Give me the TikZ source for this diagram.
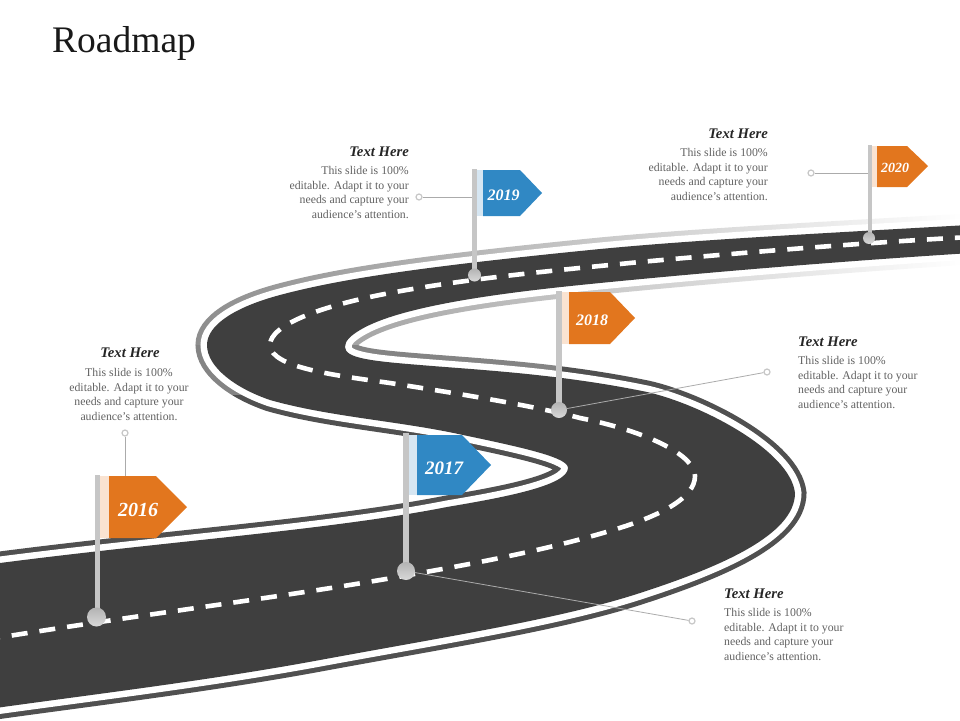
\documentclass[tikz,border=0pt]{standalone}
\usepackage{fontspec}
\setmainfont{Liberation Serif}
\usetikzlibrary{fadings}

\definecolor{roaddark}{HTML}{3F3F3F}
\definecolor{roadband}{HTML}{505050}
\definecolor{flagorange}{HTML}{E2761E}
\definecolor{flagblue}{HTML}{3088C4}
\definecolor{paleorange}{HTML}{FAE3D1}
\definecolor{paleblue}{HTML}{D6E6F2}
\definecolor{polegray}{HTML}{C6C6C6}
\definecolor{leadgray}{HTML}{ABABAB}

\tikzfading[name=bandfade,left color=transparent!65,right color=transparent!0]

\tikzset{
	heading/.style={font=\fontsize{14.7}{16}\selectfont\bfseries\itshape,text=black!85,inner sep=0pt},
	bodytext/.style={font=\fontsize{11.8}{14.8}\selectfont,text=black!62,inner sep=0pt},
	ball/.style={circle,inner sep=0pt,top color=black!30,bottom color=black!15},
	enddot/.style={circle,draw=black!22,fill=white,line width=1.2pt,inner sep=0pt,minimum size=6pt},
	lead/.style={draw=leadgray,line width=.8pt},
	year/.style={text=white,font=\bfseries\itshape,inner sep=0pt}
}

\def\roadoutline{(-60,570) -- (0,563)
	.. controls (170,541) and (330,530) .. (447,507)
	.. controls (500,498) and (568,486) .. (568,468)
	.. controls (568,458) and (530,449) .. (463,435)
	.. controls (400,421) and (330,417) .. (270,400)
	.. controls (235,388) and (207,367) .. (207,345)
	.. controls (207,325) and (235,307) .. (280,295)
	.. controls (340,279) and (420,267) .. (590,250)
	.. controls (700,239) and (850,232) .. (1020,222)
	-- (1020,250)
	.. controls (850,260) and (700,273) .. (590,284)
	.. controls (500,293) and (400,306) .. (360,330)
	.. controls (350,336) and (345,341) .. (345,347)
	.. controls (345,358) and (370,361) .. (420,365)
	.. controls (480,370) and (560,374) .. (647,392)
	.. controls (700,404) and (790,450) .. (795,493)
	.. controls (795,535) and (720,567) .. (640,593)
	.. controls (560,619) and (450,636) .. (320,660)
	.. controls (190,684) and (60,698) .. (-60,716) -- cycle}

\begin{document}
\begin{tikzpicture}[x=1pt,y=-1pt]
	\useasboundingbox (0,0) rectangle (960,720);
	\clip (0,0) rectangle (960,720);

	% road: band, white stripe, surface, centre line
	\draw[roadband,line width=23pt] \roadoutline;
	\fill[white,path fading=bandfade] (190,212) rectangle (960,345);
	\fill[white,opacity=.3] (190,345) rectangle (560,395);
	\draw[white,line width=13pt] \roadoutline;
	\fill[roaddark] \roadoutline;
	\draw[white,line width=4.6pt,dash pattern=on 16pt off 12pt,dash phase=6pt]
		(-10,639) .. controls (150,613) and (300,595) .. (420,573)
		.. controls (500,559) and (560,546) .. (613,530)
		.. controls (660,516) and (695,498) .. (695,476)
		.. controls (695,456) and (650,432) .. (580,418)
		.. controls (530,405) and (460,394) .. (390,383)
		.. controls (340,376) and (270,368) .. (270,345)
		.. controls (270,325) and (320,306) .. (390,293)
		.. controls (470,278) and (560,270) .. (640,262)
		.. controls (750,252) and (860,243) .. (970,237);

	\node[anchor=base west,inner sep=0pt,font=\fontsize{37.5}{40}\selectfont,text=black!90] (title) at (52,52) {Roadmap};

	% flags
	\foreach \yr/\pl/\pr/\ptop/\bx/\by/\bs/\fa/\fb/\fc/\ft/\fd/\fm/\fcol/\pcol/\tx/\ty/\fs in {
		2016/94.5/100/475/96.5/617/19/109/156/187/476/538/507/flagorange/paleorange/138/510/20,
		2017/403/409/433/406/571/18/417/462/491/435/495/465/flagblue/paleblue/444/468/19,
		2018/556/562/291/559/410/16/569/610/635/292/344/318/flagorange/paleorange/592/320/16,
		2019/472/477/169/474.5/275/13/483/520/542/170/216/193/flagblue/paleblue/503.5/195/16,
		2020/867.5/871.5/145/869/238/12/877/907/928/146/187/166/flagorange/paleorange/895/168/14}
	{
		\fill[\pcol] (\pr,\ft) rectangle (\fa,\fd);
		\fill[\fcol] (\fa,\ft) -- (\fb,\ft) -- (\fc,\fm) -- (\fb,\fd) -- (\fa,\fd) -- cycle;
		\fill[polegray] (\pl,\ptop) rectangle (\pr,\by);
		\node[ball,minimum size=\bs pt] (ball\yr) at (\bx,\by) {};
		\node[year,font=\fontsize{\fs}{\fs}\selectfont\bfseries\itshape] (flag\yr) at (\tx,\ty) {\yr};
	}

	% leader lines
	\node[enddot] (dot2016) at (125,433) {};
	\node[enddot] (dot2017) at (692,621) {};
	\node[enddot] (dot2018) at (767,372) {};
	\node[enddot] (dot2019) at (419,197) {};
	\node[enddot] (dot2020) at (811,173) {};
	\coordinate (top2016) at (125,476);
	\coordinate (pole2019) at (472,197);
	\coordinate (pole2020) at (867.5,173);

	\draw[lead] (dot2016) -- (top2016);
	\draw[lead] (ball2017) -- (dot2017);
	\draw[lead] (ball2018) -- (dot2018);
	\draw[lead] (dot2019) -- (pole2019);
	\draw[lead] (dot2020) -- (pole2020);

	% texts
	\node[heading,anchor=center] (head2016) at (130,353) {Text Here};
	\node[bodytext,align=center,anchor=north] (text2016) at (129,368) {This slide is 100\%\\editable. Adapt it to your\\needs and capture your\\audience's attention.};
	\node[heading,anchor=west] (head2017) at (724,594) {Text Here};
	\node[bodytext,align=left,anchor=north west] (text2017) at (724,608) {This slide is 100\%\\editable. Adapt it to your\\needs and capture your\\audience's attention.};
	\node[heading,anchor=west] (head2018) at (798,342) {Text Here};
	\node[bodytext,align=left,anchor=north west] (text2018) at (798,356) {This slide is 100\%\\editable. Adapt it to your\\needs and capture your\\audience's attention.};
	\node[heading,anchor=east] (head2019) at (409,152) {Text Here};
	\node[bodytext,align=right,anchor=north east] (text2019) at (409,166) {This slide is 100\%\\editable. Adapt it to your\\needs and capture your\\audience's attention.};
	\node[heading,anchor=east] (head2020) at (768,134) {Text Here};
	\node[bodytext,align=right,anchor=north east] (text2020) at (768,148) {This slide is 100\%\\editable. Adapt it to your\\needs and capture your\\audience's attention.};
\end{tikzpicture}
\end{document}
